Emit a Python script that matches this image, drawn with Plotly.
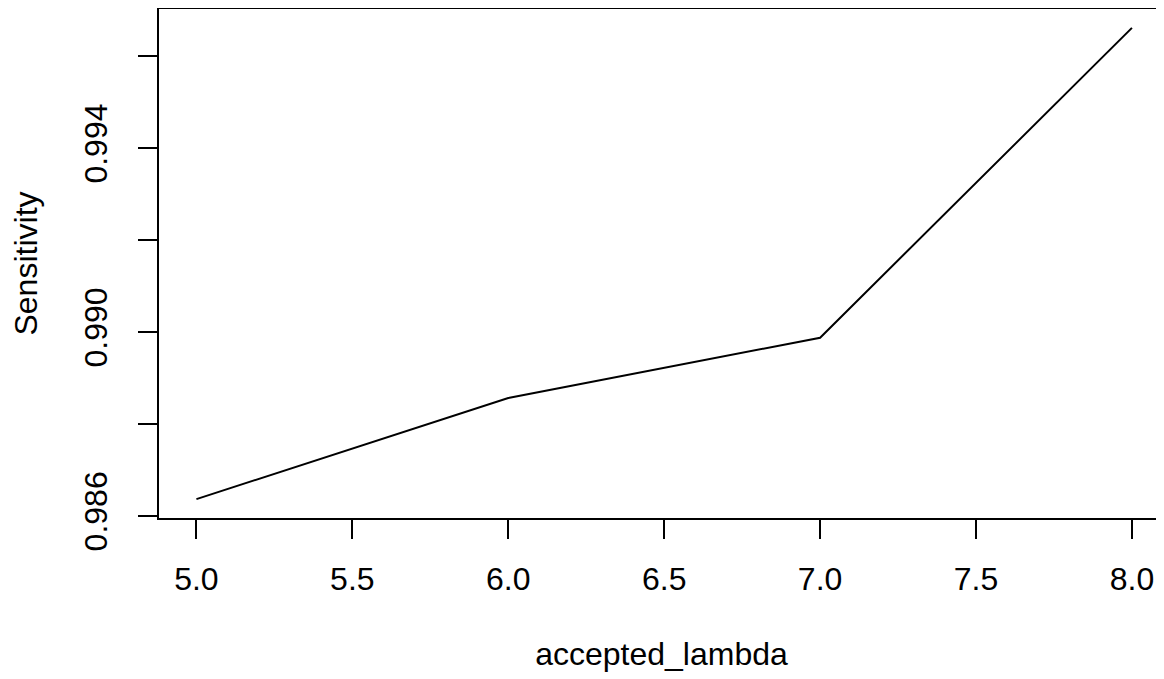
import plotly.graph_objects as go

accepted_lambda = [5, 6, 7, 8]
sensitivity = [0.98637, 0.98857, 0.98988, 0.99662]

x_tick_vals = [5.0, 5.5, 6.0, 6.5, 7.0, 7.5, 8.0]
x_tick_text = ["5.0", "5.5", "6.0", "6.5", "7.0", "7.5", "8.0"]
y_tick_vals = [0.986, 0.988, 0.990, 0.992, 0.994, 0.996]
y_tick_text = ["0.986", "", "0.990", "", "0.994", ""]

# R-style 4% padding
xs = max(accepted_lambda) - min(accepted_lambda)
ys = max(sensitivity) - min(sensitivity)
xlo, xhi = min(accepted_lambda) - 0.04 * xs, max(accepted_lambda) + 0.04 * xs
ylo, yhi = min(sensitivity) - 0.04 * ys, max(sensitivity) + 0.04 * ys
# the original image is clipped slightly on the right
x_visible = 0.9947

FONT = "Liberation Sans, Arial, sans-serif"
FS = 32

fig = go.Figure(go.Scatter(
    x=accepted_lambda, y=sensitivity, mode="lines",
    line=dict(color="black", width=2), hoverinfo="skip"))

# page body has an 8px margin, so the figure is sized to fill the rest
fig.update_layout(
    width=1156, height=671, autosize=False,
    margin=dict(l=151, r=0, t=1, b=161, pad=0),
    paper_bgcolor="white", plot_bgcolor="white",
    showlegend=False,
    font=dict(family=FONT, size=FS, color="black"),
)
fig.update_xaxes(
    range=[xlo, xlo + (xhi - xlo) * x_visible],
    tickvals=x_tick_vals, ticktext=x_tick_text,
    ticks="outside", ticklen=19, tickwidth=2, tickcolor="black",
    showline=True, linecolor="black", linewidth=2, mirror=True,
    showgrid=False, zeroline=False,
    ticklabelstandoff=13,
    tickfont=dict(family=FONT, size=FS, color="black"),
    title=dict(text="accepted_lambda", standoff=46,
               font=dict(family=FONT, size=FS, color="black")),
)
fig.update_yaxes(
    range=[ylo, yhi],
    tickvals=y_tick_vals, ticktext=y_tick_text,
    ticks="outside", ticklen=19, tickwidth=2, tickcolor="black",
    showline=True, linecolor="black", linewidth=2, mirror=False,
    showgrid=False, zeroline=False,
    tickangle=-90,
    ticklabelstandoff=18,
    tickfont=dict(family=FONT, size=FS, color="black"),
    title=dict(text="Sensitivity", standoff=36,
               font=dict(family=FONT, size=FS, color="black")),
)

fig.write_html("out.html", config={"displayModeBar": False})
